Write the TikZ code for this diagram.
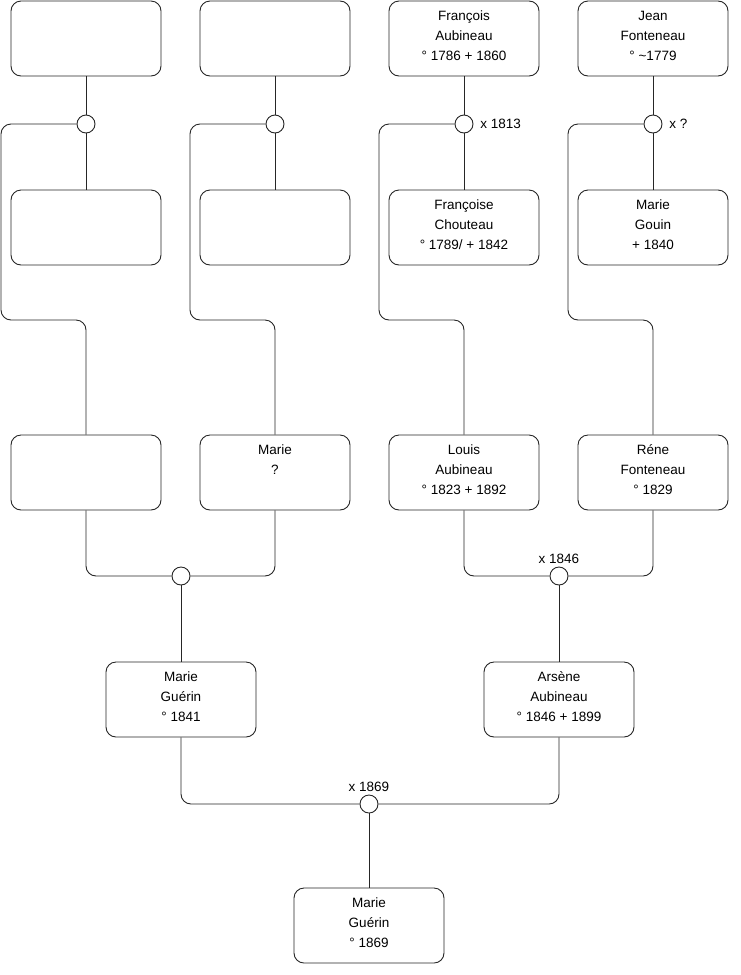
\documentclass[tikz,border=0pt]{standalone}
\usepackage{fontspec}
\setmainfont{Liberation Sans}
\begin{document}
\begin{tikzpicture}[x=1pt,y=-1pt,
  line width=0.9pt,
  link/.style={draw=black!85},
  person/.style={draw=black!85, rounded corners=10pt, minimum width=150pt, minimum height=75pt, inner sep=0pt, fill=white},
  lbl/.style={anchor=north, align=center, inner sep=0pt, yshift=-5pt, font=\fontsize{13.5}{20}\selectfont},
  union/.style={draw=black!85, circle, minimum size=18pt, inner sep=0pt, fill=white},
  note/.style={font=\fontsize{13.5}{15}\selectfont, inner sep=0pt},
  conn/.style={link, rounded corners=10pt}]
\useasboundingbox (0,0) rectangle (740,975);

% Row 1
\node[person] (a1) at (86,38.5) {};
\node[person] (a2) at (275,38.5) {};
\node[person, label={[lbl]north:{\strut François\\Aubineau\\° 1786 + 1860}}] (a3) at (464,38.5) {};
\node[person, label={[lbl]north:{\strut Jean\\Fonteneau\\° \textasciitilde1779}}] (a4) at (653,38.5) {};

% Row 2
\node[person] (b1) at (86,227.5) {};
\node[person] (b2) at (275,227.5) {};
\node[person, label={[lbl]north:{\strut Françoise\\Chouteau\\° 1789/ + 1842}}] (b3) at (464,227.5) {};
\node[person, label={[lbl]north:{\strut Marie\\Gouin\\+ 1840}}] (b4) at (653,227.5) {};

% Row 3
\node[person] (c1) at (86,472.5) {};
\node[person, label={[lbl]north:{\strut Marie\\?}}] (c2) at (275,472.5) {};
\node[person, label={[lbl]north:{\strut Louis\\Aubineau\\° 1823 + 1892}}] (c3) at (464,472.5) {};
\node[person, label={[lbl]north:{\strut Réne\\Fonteneau\\° 1829}}] (c4) at (653,472.5) {};

% Row 4
\node[person, label={[lbl]north:{\strut Marie\\Guérin\\° 1841}}] (d1) at (181,699.5) {};
\node[person, label={[lbl]north:{\strut Arsène\\Aubineau\\° 1846 + 1899}}] (d2) at (559,699.5) {};

% Row 5
\node[person, label={[lbl]north:{\strut Marie\\Guérin\\° 1869}}] (e1) at (369,925.5) {};

% Unions
\node[union] (u1) at (86,124) {};
\node[union] (u2) at (275,124) {};
\node[union] (u3) at (464,124) {};
\node[union] (u4) at (653,124) {};
\node[union] (u5) at (181,576) {};
\node[union] (u6) at (559,576) {};
\node[union] (u7) at (369,804) {};

\node[note, anchor=west] (n3) at (480,124) {x 1813};
\node[note, anchor=west] (n4) at (669,124) {x ?};
\node[note, anchor=south] (n6) at (559,564) {x 1846};
\node[note, anchor=south] (n7) at (369,792) {x 1869};

% Parent couples to child
\foreach \p/\u/\c in {a1/u1/b1, a2/u2/b2, a3/u3/b3, a4/u4/b4} {
  \draw[link] (\p.south) -- (\u.north);
  \draw[link] (\u.south) -- (\c.north);
}
\draw[conn] (u1.west) -| (1,320) -| (c1.north);
\draw[conn] (u2.west) -| (190,320) -| (c2.north);
\draw[conn] (u3.west) -| (379,320) -| (c3.north);
\draw[conn] (u4.west) -| (568,320) -| (c4.north);

\draw[conn] (c1.south) |- (u5.west);
\draw[conn] (c2.south) |- (u5.east);
\draw[link] (u5.south) -- (d1.north);
\draw[conn] (c3.south) |- (u6.west);
\draw[conn] (c4.south) |- (u6.east);
\draw[link] (u6.south) -- (d2.north);
\draw[conn] (d1.south) |- (u7.west);
\draw[conn] (d2.south) |- (u7.east);
\draw[link] (u7.south) -- (e1.north);
\end{tikzpicture}
\end{document}
